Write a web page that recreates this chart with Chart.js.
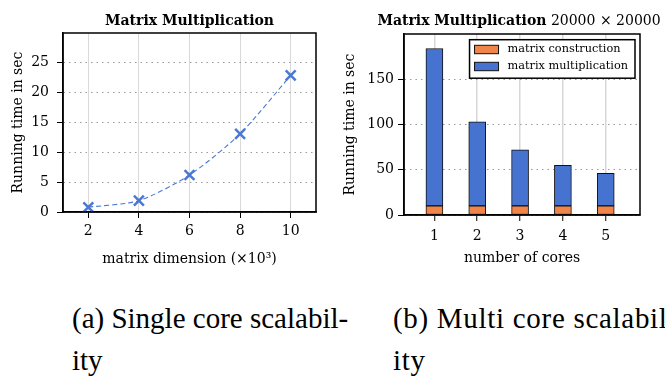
<!DOCTYPE html>
<html>
<head>
<meta charset="utf-8">
<script src="https://cdn.jsdelivr.net/npm/chart.js@4.4.1/dist/chart.umd.min.js"></script>
<style>
  html, body { margin: 0; padding: 0; background: #fff; overflow: hidden; width: 665px; height: 379px; }
  .panel { position: absolute; top: 0; }
  .cap { position: absolute; font-family: 'Liberation Serif', 'DejaVu Serif', serif; font-size: 29px; line-height: 42px; color: #000; white-space: nowrap; }
</style>
</head>
<body>
<canvas id="left" class="panel" style="left:0px" width="330" height="280"></canvas>
<canvas id="right" class="panel" style="left:335px" width="330" height="280"></canvas>
<div class="cap" style="left:72px; top:297px;">(a) Single core scalabil-<br>ity</div>
<div class="cap" style="left:393px; top:297px; letter-spacing:0.7px;">(b) Multi core scalabil-<br>ity</div>
<script>
// ---- data ----
const dims = [2, 4, 6, 8, 10];
const singleTimes = [0.8, 1.9, 6.2, 13.1, 22.9];
const leftXTicks = [2, 4, 6, 8, 10];
const leftYTicks = [0, 5, 10, 15, 20, 25];

const cores = [1, 2, 3, 4, 5];
const constructionTimes = [10, 10, 10, 10, 10];
const multiplicationTimes = [174, 93, 62, 45, 36];
const rightXTicks = [1, 2, 3, 4, 5];
const rightYTicks = [0, 50, 100, 150];

const seriesNames = ['matrix construction', 'matrix multiplication'];
const leftTitle = 'Matrix Multiplication';
const rightTitleBold = 'Matrix Multiplication';
const rightTitleRest = ' 20000 \u00d7 20000';
const leftXLabel = 'matrix dimension (\u00d710\u00b3)';
const yLabel = 'Running time in sec';
const rightXLabel = 'number of cores';

// ---- styles ----
const FONT = '"DejaVu Serif", serif';
const BLUE = '#4a78d2';
const BAR_BLUE = '#4673cf';
const BAR_ORANGE = '#ef8549';

Chart.defaults.font.family = FONT;
Chart.defaults.color = '#000';

const framePlugin = {
  id: 'frame',
  afterDraw(chart) {
    const a = chart.chartArea, ctx = chart.ctx;
    ctx.save();
    ctx.strokeStyle = '#000';
    ctx.lineWidth = 1.5;
    ctx.strokeRect(a.left, a.top, a.right - a.left, a.bottom - a.top);
    ctx.restore();
  }
};

const titlePlugin = {
  id: 'mtitle',
  afterDraw(chart, args, opts) {
    const ctx = chart.ctx, a = chart.chartArea;
    const parts = [];
    for (let i = 0; i < opts.texts.length; i++) parts.push({ text: opts.texts[i], font: opts.fonts[i] });
    ctx.save();
    ctx.fillStyle = '#000';
    ctx.textBaseline = 'alphabetic';
    let total = 0;
    const widths = parts.map(p => { ctx.font = p.font; const w = ctx.measureText(p.text).width; total += w; return w; });
    let x = (a.left + a.right) / 2 - total / 2 + (opts.dx || 0);
    parts.forEach((p, i) => { ctx.font = p.font; ctx.fillText(p.text, x, opts.y); x += widths[i]; });
    ctx.restore();
  }
};

const boxLegendPlugin = {
  id: 'boxlegend',
  afterDraw(chart, args, opts) {
    if (!opts.show) return;
    const ctx = chart.ctx, a = chart.chartArea;
    const ds = chart.data.datasets;
    ctx.save();
    ctx.font = '11.3px ' + FONT;
    let tw = 0;
    ds.forEach(d => { tw = Math.max(tw, ctx.measureText(d.label).width); });
    const rowH = 17, padTop = 5.5;
    const w = 38 + tw + 7, h = padTop * 2 + rowH * ds.length - (rowH - 8.5) + 2;
    const x0 = a.right - 5 - w, y0 = a.top + 5.7;
    ctx.fillStyle = '#fff';
    ctx.fillRect(x0, y0, w, h);
    ctx.strokeStyle = '#000';
    ctx.lineWidth = 1.5;
    ctx.strokeRect(x0, y0, w, h);
    ds.forEach((d, i) => {
      const cy = y0 + 9.8 + i * rowH;
      ctx.fillStyle = d.backgroundColor;
      ctx.fillRect(x0 + 5, cy - 4.2, 24, 8.4);
      ctx.lineWidth = 1;
      ctx.strokeStyle = '#111';
      ctx.strokeRect(x0 + 5, cy - 4.2, 24, 8.4);
      ctx.fillStyle = '#000';
      ctx.textBaseline = 'middle';
      ctx.fillText(d.label, x0 + 38, cy);
    });
    ctx.restore();
  }
};

function fixTicks(list) {
  return function (scale) { scale.ticks = list.map(v => ({ value: v })); };
}

// ---- left chart ----
new Chart(document.getElementById('left'), {
  type: 'line',
  data: {
    datasets: [{
      label: 'single core',
      data: dims.map((d, i) => ({ x: d, y: singleTimes[i] })),
      borderColor: BLUE,
      backgroundColor: BLUE,
      borderWidth: 1.1,
      borderDash: [5, 3],
      tension: 0.25,
      fill: false,
      pointStyle: 'crossRot',
      pointRadius: 7,
      pointBorderWidth: 2.5,
      pointBorderColor: BLUE,
      clip: false
    }]
  },
  options: {
    responsive: false,
    animation: false,
    layout: { padding: { top: 33, right: 14, left: 0, bottom: 0 } },
    plugins: {
      legend: { display: false },
      tooltip: { enabled: false },
      title: { display: false },
      mtitle: { texts: [leftTitle], fonts: ['bold 14px ' + FONT], y: 25 }
    },
    scales: {
      x: {
        type: 'linear', min: 1, max: 11,
        afterBuildTicks: fixTicks(leftXTicks),
        afterFit(s) { s.height = 68; },
        ticks: { font: { size: 14 }, padding: 5, color: '#000' },
        grid: { color: '#d9d9d9', lineWidth: 1, tickColor: '#000', tickLength: 6, tickWidth: 1 },
        border: { display: true, color: '#000', width: 1.5 },
        title: { display: true, text: leftXLabel, font: { size: 14 }, padding: { top: 0, bottom: 12 }, color: '#000' }
      },
      y: {
        type: 'linear', min: 0, max: 30,
        afterBuildTicks: fixTicks(leftYTicks),
        afterFit(s) { s.width = 63; },
        ticks: { font: { size: 14 }, padding: 8, color: '#000' },
        grid: { color: '#9a9a9a', lineWidth: 1, tickColor: '#000', tickLength: 6, tickWidth: 1, tickBorderDash: [] },
        border: { display: true, color: '#000', width: 1.5, dash: [1.5, 4] },
        title: { display: true, text: yLabel, font: { size: 14 }, padding: { top: 9.6, bottom: 0 }, color: '#000' }
      }
    }
  },
  plugins: [framePlugin, titlePlugin]
});

// ---- right chart ----
new Chart(document.getElementById('right'), {
  type: 'bar',
  data: {
    datasets: [{
      label: seriesNames[0],
      data: cores.map((c, i) => ({ x: c, y: constructionTimes[i] })),
      backgroundColor: BAR_ORANGE,
      borderColor: '#111',
      borderWidth: 1,
      borderSkipped: false,
      barThickness: 17
    }, {
      label: seriesNames[1],
      data: cores.map((c, i) => ({ x: c, y: multiplicationTimes[i] })),
      backgroundColor: BAR_BLUE,
      borderColor: '#111',
      borderWidth: 1,
      borderSkipped: false,
      barThickness: 17
    }]
  },
  options: {
    responsive: false,
    animation: false,
    layout: { padding: { top: 34, right: 25, left: 0, bottom: 0 } },
    plugins: {
      legend: { display: false },
      tooltip: { enabled: false },
      title: { display: false },
      mtitle: { texts: [rightTitleBold, rightTitleRest], fonts: ['bold 14px ' + FONT, '14px ' + FONT], y: 25, dx: -3 },
      boxlegend: { show: true }
    },
    scales: {
      x: {
        type: 'linear', min: 0.29, max: 5.8, stacked: true, offset: false,
        z: 1,
        afterBuildTicks: fixTicks(rightXTicks),
        afterFit(s) { s.height = 65; },
        ticks: { font: { size: 14 }, padding: 6.5, color: '#000' },
        grid: { color: 'rgba(150,150,150,0.38)', lineWidth: 1.5, tickColor: '#000', tickLength: 6, tickWidth: 1, offset: false },
        border: { display: true, color: '#000', width: 1.5 },
        title: { display: true, text: rightXLabel, font: { size: 14 }, padding: { top: 0, bottom: 13 }, color: '#000' }
      },
      y: {
        type: 'linear', min: 0, max: 200, stacked: true,
        afterBuildTicks: fixTicks(rightYTicks),
        afterFit(s) { s.width = 69; },
        ticks: { font: { size: 14 }, padding: 4, color: '#000' },
        grid: { color: '#9a9a9a', lineWidth: 1, tickColor: '#000', tickLength: 6, tickWidth: 1, tickBorderDash: [] },
        border: { display: true, color: '#000', width: 1.5, dash: [1.5, 4] },
        title: { display: true, text: yLabel, font: { size: 14 }, padding: { top: 6.6, bottom: 0 }, color: '#000' }
      }
    }
  },
  plugins: [framePlugin, titlePlugin, boxLegendPlugin]
});
</script>
</body>
</html>
